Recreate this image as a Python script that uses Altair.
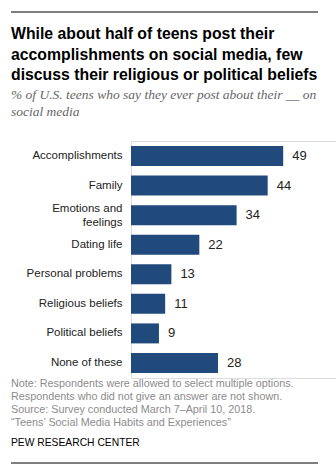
import altair as alt
import pandas as pd

categories = ["Accomplishments", "Family", "Emotions and feelings", "Dating life",
              "Personal problems", "Religious beliefs", "Political beliefs", "None of these"]
values = [49, 44, 34, 22, 13, 11, 9, 28]

title_lines = ["While about half of teens post their",
               "accomplishments on social media, few",
               "discuss their religious or political beliefs"]
subtitle_lines = ["% of U.S. teens who say they ever post about their __ on",
                  "social media"]
note_lines = ["Note: Respondents were allowed to select multiple options.",
              "Respondents who did not give an answer are not shown.",
              "Source: Survey conducted March 7\u2013April 10, 2018.",
              "\u201cTeens\u2019 Social Media Habits and Experiences\u201d"]
source_label = "PEW RESEARCH CENTER"

df = pd.DataFrame({"cat": categories, "val": values})
one = pd.DataFrame({"a": [0]})

SANS = "Liberation Sans"
BAR = "#204a7c"

y_enc = alt.Y("cat:N", sort=categories, title=None,
              scale=alt.Scale(paddingInner=0.324, paddingOuter=0.17),
              axis=alt.Axis(domain=False, ticks=False, labelPadding=9,
                            labelFont=SANS, labelFontSize=11.5, labelColor="#222",
                            labelLimit=200, labelLineHeight=13.5,
                            labelOffset={"expr": "datum.label == 'Emotions and feelings' ? -6 : 0"},
                            labelExpr="datum.label == 'Emotions and feelings' ? ['Emotions and', 'feelings'] : datum.label"))
x_enc = alt.X("val:Q", scale=alt.Scale(domain=[0, 66]), axis=None)

bars = alt.Chart(df).mark_bar(color=BAR).encode(x=x_enc, y=y_enc)
labels = alt.Chart(df).mark_text(align="left", baseline="middle", dx=9,
                                 font=SANS, fontSize=13, color="#222").encode(
    x=x_enc, y=alt.Y("cat:N", sort=categories), text="val:Q")

def txt(lines, x, y, **kw):
    return alt.Chart(one).mark_text(text=lines, align="left", baseline="alphabetic", **kw).encode(
        x=alt.value(x), y=alt.value(y))

title = txt(title_lines, -120, -102, font=SANS, fontSize=15.8, fontWeight="bold",
            color="#000", lineHeight=20.5)
subtitle = txt(subtitle_lines, -120, -42, font="Liberation Serif", fontSize=13.5,
               fontStyle="italic", color="#666", lineHeight=17)
notes = txt(note_lines, -120, 246, font=SANS, fontSize=10.8, color="#8c8c8c", lineHeight=13)
pew = txt([source_label], -120, 305, font=SANS, fontSize=10.3, fontWeight=500, color="#000")

top_rule = alt.Chart(one).mark_rule(color="#000", strokeWidth=1).encode(
    x=alt.value(-120), x2=alt.value(187), y=alt.value(-129))
bot_rule = alt.Chart(one).mark_rule(color="#000", strokeWidth=1).encode(
    x=alt.value(-120), x2=alt.value(187), y=alt.value(322))

chart = alt.layer(bars, labels, title, subtitle, notes, pew, top_rule, bot_rule).resolve_scale(
    y="shared").properties(
    width=205, height=237,
    padding={"left": 131, "top": 141, "right": 0, "bottom": 96},
    autosize=alt.AutoSizeParams(type="none"),
).configure_view(stroke=None).configure(background="white")

chart.save("out.html", embed_options={"renderer": "svg", "actions": False})
